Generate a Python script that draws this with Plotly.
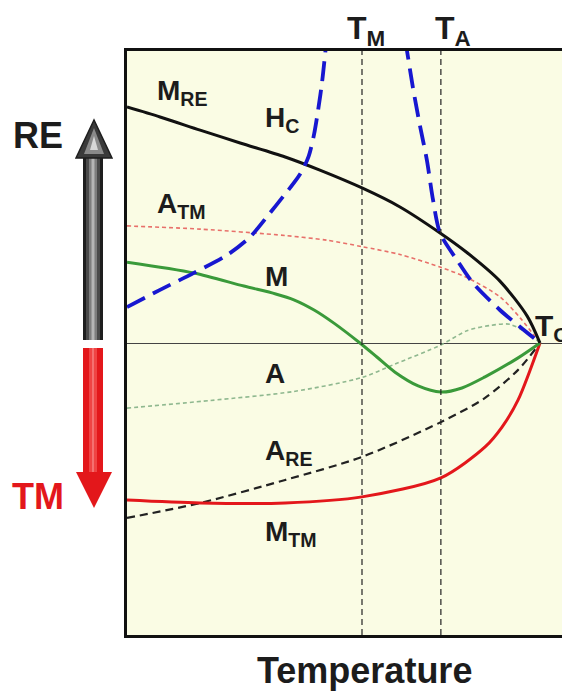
import plotly.graph_objects as go

# Temperature scaled so that T_C = 1, magnetisation in arbitrary units
t_m = 0.569
t_a = 0.760
t_c = 1.0

m_re_x = [0.0, 0.080, 0.177, 0.274, 0.383, 0.467, 0.569, 0.661, 0.758, 0.823, 0.903, 0.969, 1.0]
m_re_y = [0.808, 0.774, 0.729, 0.685, 0.637, 0.592, 0.531, 0.466, 0.377, 0.310, 0.212, 0.092, 0.0]

a_tm_x = [0.0, 0.177, 0.383, 0.484, 0.569, 0.661, 0.758, 0.823, 0.903, 0.952, 1.0]
a_tm_y = [0.401, 0.390, 0.368, 0.352, 0.330, 0.303, 0.260, 0.224, 0.158, 0.086, 0.0]

hc_left_x = [0.0, 0.080, 0.162, 0.242, 0.298, 0.346, 0.380, 0.404, 0.424, 0.440, 0.453, 0.463, 0.472, 0.482]
hc_left_y = [0.123, 0.182, 0.240, 0.301, 0.363, 0.445, 0.505, 0.548, 0.590, 0.640, 0.715, 0.800, 0.890, 1.021]
hc_right_x = [0.673, 0.678, 0.692, 0.709, 0.726, 0.741, 0.758, 0.799, 0.838, 0.903, 0.952, 1.0]
hc_right_y = [1.038, 1.0, 0.877, 0.747, 0.627, 0.490, 0.377, 0.284, 0.205, 0.113, 0.055, 0.0]

m_x = [0.0, 0.162, 0.283, 0.360, 0.404, 0.453, 0.501, 0.564, 0.605, 0.649, 0.705, 0.760, 0.811, 0.867, 0.947, 1.0]
m_y = [0.277, 0.240, 0.195, 0.168, 0.148, 0.113, 0.068, 0.0, -0.048, -0.100, -0.147, -0.168, -0.154, -0.116, -0.051, 0.0]

a_x = [0.0, 0.201, 0.404, 0.569, 0.649, 0.760, 0.823, 0.879, 0.927, 0.980, 1.0]
a_y = [-0.223, -0.197, -0.166, -0.118, -0.072, -0.007, 0.042, 0.060, 0.064, 0.024, 0.0]

a_re_x = [0.0, 0.177, 0.383, 0.569, 0.760, 0.867, 0.947, 1.0]
a_re_y = [-0.599, -0.548, -0.469, -0.390, -0.271, -0.188, -0.092, 0.0]

m_tm_x = [0.0, 0.177, 0.383, 0.569, 0.760, 0.867, 0.908, 0.947, 1.0]
m_tm_y = [-0.538, -0.548, -0.548, -0.527, -0.462, -0.356, -0.288, -0.195, 0.0]

FONT = "Arial, Liberation Sans, sans-serif"
INK = "#1c1c1c"
RED = "#e3171b"

fig = go.Figure()


def curve(x, y, color, width, dash="solid"):
    fig.add_trace(go.Scatter(x=x, y=y, mode="lines", hoverinfo="skip",
                             line=dict(color=color, width=width, dash=dash,
                                       shape="spline", smoothing=0.8)))


curve(a_tm_x, a_tm_y, "#e8706a", 1.6, "4px,3px")
curve(a_x, a_y, "#8fb88f", 1.6, "4px,3px")
curve(a_re_x, a_re_y, "#222222", 2.2, "8px,5px")
curve(m_tm_x, m_tm_y, RED, 3)
curve(m_x, m_y, "#3a9a3a", 3)
curve(m_re_x, m_re_y, "#111111", 3)
curve(hc_left_x, hc_left_y, "#1717d0", 3.8, "20px,9px")
curve(hc_right_x, hc_right_y, "#1717d0", 3.8, "20px,9px")

for t in (t_m, t_a):
    fig.add_vline(x=t, line=dict(color="#222222", width=1.2, dash="6px,4px"))

# plot box in window pixels: left 127, right 570, top 51, bottom 635
# the page body has an 8px margin, so the figure itself is drawn 8px in
L, R, T, B = 127, 570, 51, 635
OFF = 8
W, H = 570 - OFF, 696 - OFF


def px(x, y):
    return (x - L) / (R - L), (B - y) / (B - T)


def rect(x0, y0, x1, y1, color):
    a = px(x0, y0)
    b = px(x1, y1)
    fig.add_shape(type="rect", xref="paper", yref="paper", x0=a[0], y0=a[1],
                  x1=b[0], y1=b[1], fillcolor=color, line_width=0)


def tri(pts, color, line="rgba(0,0,0,0)"):
    p = [px(*q) for q in pts]
    path = "M {} {} L {} {} L {} {} Z".format(p[0][0], p[0][1], p[1][0], p[1][1], p[2][0], p[2][1])
    fig.add_shape(type="path", xref="paper", yref="paper", path=path,
                  fillcolor=color, line=dict(color=line, width=1.5))


# RE arrow (grey cylinder)
rect(83, 156, 103, 340, "#1e1e1e")
rect(86, 156, 100, 340, "#4a4a4a")
rect(89, 156, 97, 340, "#7d7d7d")
rect(91.5, 156, 94.5, 340, "#b5b5b5")
tri([(76, 158), (112, 158), (94, 120)], "#3a3a3a", "#1e1e1e")
tri([(84, 154), (104, 154), (94, 128)], "#8a8a8a")
tri([(90, 150), (98, 150), (94, 136)], "#d8d8d8")

# TM arrow (red)
rect(83, 348, 103, 473, RED)
rect(89, 348, 97, 473, "#ef4444")
rect(92, 348, 94, 473, "#f57070")
tri([(76, 472), (112, 472), (94, 508)], RED)


def label(text, x, y, size=28, color=INK, xref="x", yref="y", xanchor="left"):
    fig.add_annotation(text="<b>" + text + "</b>", x=x, y=y, xref=xref, yref=yref,
                       showarrow=False, xanchor=xanchor, yanchor="middle",
                       font=dict(family=FONT, size=size, color=color))


label("M<sub>RE</sub>", 0.068, 0.859)
label("H<sub>C</sub>", 0.330, 0.765)
label("A<sub>TM</sub>", 0.068, 0.470)
label("M", 0.330, 0.229)
label("A", 0.330, -0.103)
label("A<sub>RE</sub>", 0.330, -0.375)
label("M<sub>TM</sub>", 0.330, -0.653)
label("T<sub>C</sub>", 0.982, 0.052, size=30)
label("T<sub>M</sub>", t_m - 0.04, 1.035, size=32, yref="paper")
label("T<sub>A</sub>", t_a - 0.02, 1.035, size=32, yref="paper")
label("Temperature", 0.536, -0.060, size=36, xref="paper", yref="paper", xanchor="center")
label("RE", -0.201, 0.856, size=36, xref="paper", yref="paper", xanchor="center")
label("TM", -0.201, 0.238, size=36, color=RED, xref="paper", yref="paper", xanchor="center")

fig.update_layout(
    width=W, height=H,
    margin=dict(l=L - OFF, r=0, t=T - OFF, b=H - (B - OFF)),
    paper_bgcolor="white",
    plot_bgcolor="#fafce4",
    showlegend=False,
    xaxis=dict(range=[0, (R - L) / 413], showgrid=False, zeroline=False,
               showticklabels=False, ticks="", showline=True, mirror=True,
               linecolor="#111111", linewidth=3),
    yaxis=dict(range=[-1, 1], showgrid=False, zeroline=True,
               zerolinecolor="#444444", zerolinewidth=1.3,
               showticklabels=False, ticks="", showline=True,
               linecolor="#111111", linewidth=3),
)

fig.write_html("out.html")
